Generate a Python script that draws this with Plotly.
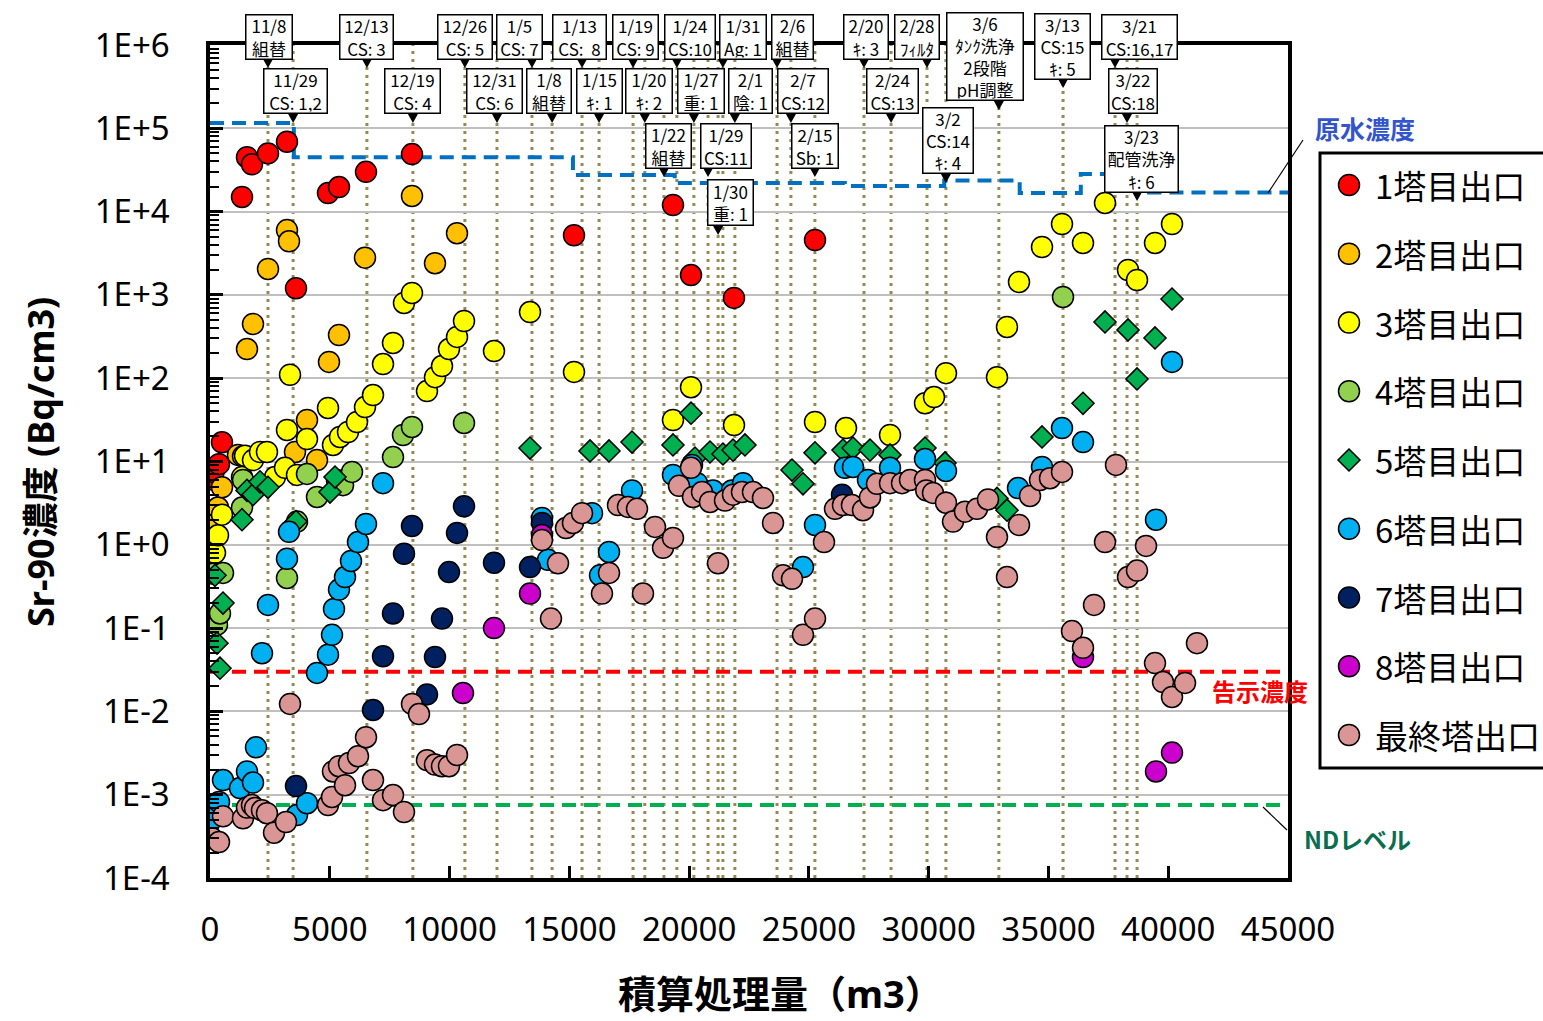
import plotly.graph_objects as go

# ---------------- data ----------------
S1_X = [50, 150, 375, 500, 1336, 1544, 1753, 2421, 3214, 3590, 4926, 5385, 6512, 8432, 15195, 19327, 20079, 21874, 25255]
S1_Y = [6.1, 7.5, 9.3, 17, 1.5e4, 4.5e4, 3.7e4, 5.0e4, 6.9e4, 1.2e3, 1.67e4, 1.97e4, 3.0e4, 4.9e4, 5.2e3, 1.2e4, 1.73e3, 920, 4.56e3]

S2_X = [40, 334, 501, 1169, 1378, 1544, 1795, 2421, 3214, 3298, 3548, 4049, 4467, 4968, 5385, 6470, 8432, 9392, 10311]
S2_Y = [1.7, 2.8, 4.9, 12, 11.6, 224, 448, 2050, 6000, 4400, 13, 31.5, 10.4, 157, 330, 2800, 1.54e4, 2400, 5500]

S3_X = [20, 209, 334, 501, 1336, 1461, 1795, 2087, 2379, 2713, 3131, 3214, 3340, 3632, 4049, 4926, 5134, 5427, 5761, 6136,
        6470, 6804, 7222, 7639, 8098, 8432, 9058, 9392, 9685, 9977, 10311, 10603, 11855, 13358, 15195, 19327, 20079,
        21874, 25255, 26549, 28386, 29847, 30223, 30723, 32852, 33270, 33771, 34731, 35566, 36443, 37361, 38321, 38697,
        39448, 40158]
S3_Y = [0.9, 0.8, 1.3, 2.3, 6.5, 11.7, 10.4, 13, 13, 6.5, 8.4, 23.9, 110, 6.9, 18.6, 43.9, 15.8, 19.7, 22.6, 29.8,
        45, 62.8, 148, 265, 800, 1055, 70, 103, 140, 224, 313, 486, 212, 623, 119, 31.5, 78,
        27.4, 29.8, 25.2, 20.8, 50, 59.4, 115, 103, 412, 1430, 3760, 7100, 4200, 1.27e4, 1990, 1510,
        4200, 7100]

S4_X = [125, 292, 417, 543, 1336, 1378, 3214, 3632, 4049, 4467, 5301, 5553, 5928, 7639, 8057, 8432, 10603, 35607]
S4_Y = [0.45, 0.11, 0.15, 0.46, 2.8, 6.0, 0.4, 1.9, 7.1, 3.75, 6.0, 5.2, 7.5, 11.3, 20.8, 26, 29, 944]

S5_X = [209, 292, 417, 543, 1336, 1544, 1795, 2087, 2421, 3590, 5009, 5218, 13358, 15863, 16656, 17616, 19327, 20079,
        20245, 20872, 21414, 21832, 22332, 24295, 24754, 25255, 26424, 26841, 27551, 28386, 29847, 30682, 32852,
        33270, 34731, 36443, 37361, 38321, 38697, 39448, 40158]
S5_Y = [0.43, 0.066, 0.033, 0.2, 2.0, 4.5, 4.0, 5.7, 4.9, 1.9, 4.3, 6.5, 14.5, 13.4, 13.4, 17.1, 15.8, 38,
        11, 13, 12.3, 13.7, 15.8, 7.9, 5.4, 12.7, 13.7, 14.5, 13.7, 12, 14.5, 9.6, 3.6,
        2.6, 19.7, 50, 473, 380, 98, 304, 893]

S6_X = [125, 376, 543, 1252, 1544, 1795, 1920, 2171, 2421, 3214, 3298, 3632, 4049, 4467, 4926, 5093, 5176, 5385, 5636,
        5886, 6178, 6512, 7222, 13859, 14109, 15946, 16280, 16656, 17616, 19327, 20120, 20330, 20997, 21790, 22249,
        24754, 25255, 26507, 26841, 27467, 28386, 29847, 30723, 33729, 34731, 35566, 36443, 39490, 40158]
S6_Y = [0.00052, 0.00082, 0.0015, 0.0012, 0.0019, 0.0014, 0.0037, 0.05, 0.19, 0.68, 1.43, 0.00057, 0.00079, 0.029,
        0.048, 0.083, 0.17, 0.29, 0.41, 0.64, 1.08, 1.78, 5.5, 2.1, 0.66, 2.4, 0.43, 0.82, 4.5, 6.9, 9.1, 5.5, 4.5,
        4.5, 5.5, 0.54, 1.73, 8.4, 8.6, 6.0, 8.4, 10.7, 7.7, 4.8, 8.6, 25.2, 17.1, 2.0, 157]

S7_X = [3590, 6804, 7222, 7639, 8098, 8432, 9058, 9392, 9685, 9977, 10311, 10603, 11855, 13358, 13859, 26382]
S7_Y = [0.00127, 0.0104, 0.046, 0.15, 0.78, 1.68, 0.016, 0.045, 0.13, 0.47, 1.39, 2.9, 0.61, 0.54, 1.83, 4.0]

S8_X = [10561, 11855, 13358, 13859, 36443, 39490, 40158]
S8_Y = [0.0166, 0.1, 0.26, 1.31, 0.045, 0.0019, 0.0032]

S9_X = [83, 376, 543, 1378, 1544, 1753, 1878, 2171, 2379, 2672, 3173, 3340, 4926, 5093, 5134, 5385, 5636, 5802, 6178,
        6512, 6804, 7222, 7639, 8098, 8432, 8724, 9058, 9392, 9685, 9977, 10311,
        13859, 14234, 14527, 14861, 15152, 15529, 16363, 16656, 17032, 17449, 17825, 18075, 18576, 18910, 19327,
        19578, 20079, 20162, 20538, 20872, 21206, 21498, 21832, 22207, 22666, 23084, 23502, 23919, 24295, 24754,
        25255, 25631, 26090, 26424, 26799, 27259, 27551, 27843, 28386, 28887, 29221, 29847, 29900, 30181, 30723,
        31016, 31517, 32018, 32477, 32852, 33270, 33771, 34230, 34648, 35065, 35566, 35983, 36443, 36902, 37361,
        37820, 38321, 38697, 39073, 39448, 39783, 40158, 40701, 41200]
S9_Y = [0.0003, 0.00027, 0.00055, 0.00052, 0.0007, 0.00075, 0.00069, 0.00065, 0.0006, 0.00035, 0.00047, 0.0123,
        0.00075, 0.00094, 0.0019, 0.0022, 0.0013, 0.0024, 0.0029, 0.0049, 0.0015, 0.00086, 0.00099, 0.00062,
        0.0123, 0.0093, 0.0026, 0.0023, 0.0022, 0.0022, 0.003,
        1.14, 0.13, 0.6, 1.59, 1.83, 2.4, 0.26, 0.46, 3.0, 2.85, 2.7, 0.26, 1.64, 0.92, 1.21,
        5.1, 8.4, 3.75, 4.3, 3.27, 0.6, 3.4, 4.0, 4.3, 4.3, 3.65, 1.83, 0.43, 0.39, 0.083,
        0.13, 1.08, 2.7, 3.0, 3.0, 2.6, 3.7, 5.4, 5.5, 5.5, 6.0, 6.0, 4.5, 4.2, 3.2,
        1.9, 2.5, 2.7, 3.5, 1.24, 0.41, 1.73, 3.86, 6.0, 6.3, 7.5, 0.092, 0.058, 0.19, 1.08,
        9.1, 0.41, 0.49, 0.97, 0.038, 0.0225, 0.0149, 0.022, 0.066]

SERIES_NAMES = ["1塔目出口", "2塔目出口", "3塔目出口", "4塔目出口", "5塔目出口",
                "6塔目出口", "7塔目出口", "8塔目出口", "最終塔出口"]
SERIES_X = [S1_X, S2_X, S3_X, S4_X, S5_X, S6_X, S7_X, S8_X, S9_X]
SERIES_Y = [S1_Y, S2_Y, S3_Y, S4_Y, S5_Y, S6_Y, S7_Y, S8_Y, S9_Y]

RAW_X = [0, 3500, 15150, 19400, 26500, 30650, 33800, 36350, 39200, 45000]
RAW_Y = [1.16e5, 4.5e4, 2.75e4, 2.2e4, 2.03e4, 2.36e4, 1.67e4, 2.83e4, 1.7e4, 1.7e4]
LIMIT_X = [0, 45000]
NOTIFY_Y = [0.03, 0.03]
ND_Y = [7.5e-4, 7.5e-4]

EVENT_X = [2420, 3470, 6550, 8470, 10640, 11980, 13440, 14280, 15530, 16240, 17660, 18150, 18950, 19490, 20200,
           20790, 21210, 21410, 21910, 23670, 24250, 25250, 27300, 28430, 29930, 30720, 32930, 35610, 37780,
           38280, 38700]
EVENT_TEXT = ["11/8<br>組替", "11/29<br>CS: 1,2", "12/13<br>CS: 3", "12/19<br>CS: 4", "12/26<br>CS: 5",
              "12/31<br>CS: 6", "1/5<br>CS: 7", "1/8<br>組替", "1/13<br>CS:  8", "1/15<br>ｷ: 1", "1/19<br>CS: 9",
              "1/20<br>ｷ: 2", "1/22<br>組替", "1/24<br>CS:10", "1/27<br>重: 1", "1/29<br>CS:11", "1/30<br>重: 1",
              "1/31<br>Ag: 1", "2/1<br>陰: 1", "2/6<br>組替", "2/7<br>CS:12", "2/15<br>Sb: 1", "2/20<br>ｷ: 3",
              "2/24<br>CS:13", "2/28<br>ﾌｨﾙﾀ", "3/2<br>CS:14<br>ｷ: 4", "3/6<br>ﾀﾝｸ洗浄<br>2段階<br>pH調整",
              "3/13<br>CS:15<br>ｷ: 5", "3/21<br>CS:16,17", "3/22<br>CS:18", "3/23<br>配管洗浄<br>ｷ: 6"]

Y_TICKS = [1e-4, 1e-3, 1e-2, 1e-1, 1e0, 1e1, 1e2, 1e3, 1e4, 1e5, 1e6]
Y_TICKTEXT = ["1E-4", "1E-3", "1E-2", "1E-1", "1E+0", "1E+1", "1E+2", "1E+3", "1E+4", "1E+5", "1E+6"]
X_TICKS = [0, 5000, 10000, 15000, 20000, 25000, 30000, 35000, 40000, 45000]
X_TICKTEXT = ["0", "5000", "10000", "15000", "20000", "25000", "30000", "35000", "40000", "45000"]

# ---------------- layout helpers (pixel placement) ----------------
W, H = 1543, 1021
PL, PR, PT, PB = 210, 1288, 45, 878


def fx(p):
    return p / W


def fy(p):
    return 1 - p / H


# box placement: (center_y_px, height_px, x_shift_px, width_px)
BOX_LAYOUT = [(36.5, 45, 1, 47), (91.5, 45, 2, 64), (36.5, 45, 0, 54), (91.5, 45, 0, 56), (36.5, 45, 0, 55),
              (91.5, 45, -2, 56), (36.5, 45, -12, 46), (91.5, 45, -3, 45), (36.5, 45, -3, 54), (91.5, 45, 0, 46),
              (36.5, 45, 2, 46), (91.5, 45, 4, 47), (145.5, 45, 5, 46), (36.5, 45, 13, 51), (91.5, 45, 7, 47),
              (145.5, 45, 18, 51), (203, 46, 12, 46), (36.5, 45, 20, 47), (91.5, 45, 16, 44), (36.5, 45, 15, 42),
              (91.5, 45, 12, 51), (145.5, 45, 0, 47), (36.5, 45, 2, 45), (91.5, 45, 1, 52), (36.5, 45, -10, 45),
              (141, 66, 2, 51), (57, 88, -14, 77), (46, 66, -1, 56), (36.5, 45, 24, 76), (91.5, 45, 6, 49),
              (158.5, 67, 4, 74)]

STYLES = [("#FF0000", "circle"), ("#FFC000", "circle"), ("#FFFF00", "circle"), ("#92D050", "circle"),
          ("#00B050", "diamond"), ("#00B0F0", "circle"), ("#002060", "circle"), ("#CC00CC", "circle"),
          ("#DA9694", "circle")]

CJK = "Noto Sans CJK JP"

fig = go.Figure()

# reference lines (behind markers)
fig.add_trace(go.Scatter(x=RAW_X, y=RAW_Y, mode="lines", line=dict(color="#0070C0", width=4, dash="14px,8px",
                                                                      shape="hv"), showlegend=False, hoverinfo="skip"))
fig.add_trace(go.Scatter(x=LIMIT_X, y=NOTIFY_Y, mode="lines", line=dict(color="#FF0000", width=4, dash="14px,8px"),
                         showlegend=False, hoverinfo="skip"))
fig.add_trace(go.Scatter(x=LIMIT_X, y=ND_Y, mode="lines", line=dict(color="#00B050", width=4, dash="14px,8px"),
                         showlegend=False, hoverinfo="skip"))

for name, xs, ys, (col, sym) in zip(SERIES_NAMES, SERIES_X, SERIES_Y, STYLES):
    fig.add_trace(go.Scatter(x=xs, y=ys, mode="markers", name=name, showlegend=False,
                             marker=dict(color=col, symbol=sym, size=17 if sym == "diamond" else 21,
                                         line=dict(color="black", width=1.5))))

shapes = []
# event dotted lines
for ex in EVENT_X:
    shapes.append(dict(type="line", xref="x", yref="paper", x0=ex, x1=ex, y0=fy(PB), y1=fy(PT), layer="below",
                       line=dict(color="#948A54", width=3, dash="3px,5px")))

annotations = []
for ex, txt, (cy, h, dx, w) in zip(EVENT_X, EVENT_TEXT, BOX_LAYOUT):
    annotations.append(dict(x=ex, xref="x", y=fy(cy), yref="paper", text=txt, showarrow=False,
                            xanchor="center", yanchor="middle", xshift=dx, width=w - 4, height=h - 4,
                            bgcolor="white", bordercolor="black", borderwidth=1.5, borderpad=1,
                            font=dict(family=CJK, size=17, color="black"), align="center", valign="middle"))
    tip = cy + h / 2 + 9
    shapes.append(dict(type="path", xref="x", yref="paper", xsizemode="pixel", ysizemode="pixel",
                       xanchor=ex, yanchor=fy(tip), path="M-5,9 L5,9 L0,0 Z",
                       fillcolor="black", line=dict(width=0), layer="above"))

# leader lines
shapes.append(dict(type="line", xref="paper", yref="paper", x0=fx(1303), y0=fy(140), x1=fx(1268), y1=fy(193),
                   line=dict(color="black", width=1.2), layer="above"))
shapes.append(dict(type="line", xref="paper", yref="paper", x0=fx(1263), y0=fy(807), x1=fx(1287), y1=fy(830),
                   line=dict(color="black", width=1.2), layer="above"))

# manual legend
shapes.append(dict(type="rect", xref="paper", yref="paper", x0=fx(1320), x1=fx(1580), y0=fy(768), y1=fy(153),
                   line=dict(color="black", width=3), fillcolor="white", layer="above"))
for i, (name, (col, sym)) in enumerate(zip(SERIES_NAMES, STYLES)):
    cy = 185 + 68.75 * i
    if sym == "diamond":
        shapes.append(dict(type="path", xref="paper", yref="paper", xsizemode="pixel", ysizemode="pixel",
                           xanchor=fx(1349), yanchor=fy(cy), path="M0,11 L11,0 L0,-11 L-11,0 Z",
                           fillcolor=col, line=dict(color="black", width=1.5), layer="above"))
    else:
        shapes.append(dict(type="circle", xref="paper", yref="paper", xsizemode="pixel", ysizemode="pixel",
                           xanchor=fx(1349), yanchor=fy(cy), x0=-10.5, x1=10.5, y0=-10.5, y1=10.5,
                           fillcolor=col, line=dict(color="black", width=1.5), layer="above"))
    annotations.append(dict(x=fx(1373), y=fy(cy), xref="paper", yref="paper", text=name, showarrow=False,
                            xanchor="left", yanchor="middle", font=dict(family=CJK, size=33, color="black")))

# labels
annotations += [
    dict(x=fx(1365), y=fy(128), xref="paper", yref="paper", text="<b>原水濃度</b>", showarrow=False,
         xanchor="center", yanchor="middle", font=dict(family=CJK, size=25, color="#3355CC")),
    dict(x=fx(1260), y=fy(690), xref="paper", yref="paper", text="<b>告示濃度</b>", showarrow=False,
         xanchor="center", yanchor="middle", font=dict(family=CJK, size=24, color="#FF0000")),
    dict(x=fx(1357), y=fy(838), xref="paper", yref="paper", text="<b>NDレベル</b>", showarrow=False,
         xanchor="center", yanchor="middle", font=dict(family=CJK, size=24, color="#0B6E4F")),
    dict(x=fx(40), y=fy(462), xref="paper", yref="paper", text="<b>Sr-90濃度 (Bq/cm3)</b>", showarrow=False,
         xanchor="center", yanchor="middle", textangle=-90,
         font=dict(family="Noto Sans, " + CJK, size=36, color="black")),
    dict(x=fx(780), y=fy(993), xref="paper", yref="paper", text="<b>積算処理量（m3）</b>", showarrow=False,
         xanchor="center", yanchor="middle", font=dict(family="Noto Sans, " + CJK, size=38, color="black")),
]

MINOR_Y = [m * 10 ** k for k in range(-4, 6) for m in range(2, 10)]

fig.update_layout(
    width=W, height=H, margin=dict(l=0, r=0, t=0, b=0, autoexpand=False),
    paper_bgcolor="white", plot_bgcolor="white", showlegend=False,
    shapes=shapes, annotations=annotations,
    xaxis=dict(domain=[fx(PL), fx(PR)], range=[0, 45000], tickmode="array", tickvals=X_TICKS,
               ticktext=X_TICKTEXT,
               ticks="inside", ticklen=12, tickwidth=2.5, tickcolor="black", showgrid=False, zeroline=False,
               showline=True, mirror=True, linecolor="black", linewidth=3.5, automargin=False,
               tickfont=dict(family="Noto Sans", size=33, color="black"), ticklabelstandoff=20),
    yaxis=dict(domain=[fy(PB), fy(PT)], type="log", range=[-4, 6], tickmode="array", tickvals=Y_TICKS,
               ticktext=Y_TICKTEXT, ticks="inside", ticklen=13, tickwidth=2.5, tickcolor="black",
               showgrid=True, gridcolor="#BFBFBF", gridwidth=2, zeroline=False,
               showline=True, mirror=True, linecolor="black", linewidth=3.5, automargin=False,
               minor=dict(tickmode="array", tickvals=MINOR_Y, ticks="inside", ticklen=9, tickwidth=2,
                          tickcolor="black", showgrid=False),
               tickfont=dict(family="Noto Sans", size=33, color="black"), ticklabelstandoff=30),
)

fig.write_html("out.html", config={"displayModeBar": False},
               post_script="document.body.style.margin='0';document.body.style.padding='0';")
